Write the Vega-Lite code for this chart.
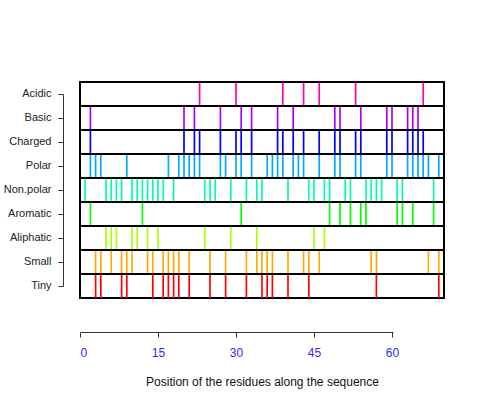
{
  "$schema": "https://vega.github.io/schema/vega-lite/v6.json",
  "width": 364,
  "height": 216,
  "autosize": {"type": "none"},
  "padding": {"left": 80, "top": 82, "right": 45, "bottom": 105},
  "background": "white",
  "config": {
    "font": "Liberation Sans",
    "view": {"stroke": "black", "strokeWidth": 2}
  },
  "datasets": {
    "marks": [
      {"category": "Acidic", "pos": 23}, {"category": "Acidic", "pos": 30}, {"category": "Acidic", "pos": 39}, {"category": "Acidic", "pos": 43}, {"category": "Acidic", "pos": 46}, {"category": "Acidic", "pos": 53}, {"category": "Acidic", "pos": 66},
      {"category": "Basic", "pos": 2}, {"category": "Basic", "pos": 20}, {"category": "Basic", "pos": 22}, {"category": "Basic", "pos": 27}, {"category": "Basic", "pos": 31}, {"category": "Basic", "pos": 33}, {"category": "Basic", "pos": 38}, {"category": "Basic", "pos": 41}, {"category": "Basic", "pos": 49}, {"category": "Basic", "pos": 50}, {"category": "Basic", "pos": 54}, {"category": "Basic", "pos": 59}, {"category": "Basic", "pos": 60}, {"category": "Basic", "pos": 63}, {"category": "Basic", "pos": 64}, {"category": "Basic", "pos": 65},
      {"category": "Charged", "pos": 2}, {"category": "Charged", "pos": 20}, {"category": "Charged", "pos": 22}, {"category": "Charged", "pos": 23}, {"category": "Charged", "pos": 27}, {"category": "Charged", "pos": 30}, {"category": "Charged", "pos": 31}, {"category": "Charged", "pos": 33}, {"category": "Charged", "pos": 38}, {"category": "Charged", "pos": 39}, {"category": "Charged", "pos": 41}, {"category": "Charged", "pos": 43}, {"category": "Charged", "pos": 46}, {"category": "Charged", "pos": 49}, {"category": "Charged", "pos": 50}, {"category": "Charged", "pos": 53}, {"category": "Charged", "pos": 54}, {"category": "Charged", "pos": 59}, {"category": "Charged", "pos": 60}, {"category": "Charged", "pos": 63}, {"category": "Charged", "pos": 64}, {"category": "Charged", "pos": 65}, {"category": "Charged", "pos": 66},
      {"category": "Polar", "pos": 2}, {"category": "Polar", "pos": 3}, {"category": "Polar", "pos": 4}, {"category": "Polar", "pos": 9}, {"category": "Polar", "pos": 17}, {"category": "Polar", "pos": 19}, {"category": "Polar", "pos": 20}, {"category": "Polar", "pos": 21}, {"category": "Polar", "pos": 22}, {"category": "Polar", "pos": 23}, {"category": "Polar", "pos": 27}, {"category": "Polar", "pos": 28}, {"category": "Polar", "pos": 30}, {"category": "Polar", "pos": 31}, {"category": "Polar", "pos": 33}, {"category": "Polar", "pos": 36}, {"category": "Polar", "pos": 37}, {"category": "Polar", "pos": 38}, {"category": "Polar", "pos": 39}, {"category": "Polar", "pos": 41}, {"category": "Polar", "pos": 42}, {"category": "Polar", "pos": 43}, {"category": "Polar", "pos": 46}, {"category": "Polar", "pos": 49}, {"category": "Polar", "pos": 50}, {"category": "Polar", "pos": 53}, {"category": "Polar", "pos": 54}, {"category": "Polar", "pos": 59}, {"category": "Polar", "pos": 60}, {"category": "Polar", "pos": 63}, {"category": "Polar", "pos": 64}, {"category": "Polar", "pos": 65}, {"category": "Polar", "pos": 66}, {"category": "Polar", "pos": 67}, {"category": "Polar", "pos": 69},
      {"category": "Non.polar", "pos": 1}, {"category": "Non.polar", "pos": 5}, {"category": "Non.polar", "pos": 6}, {"category": "Non.polar", "pos": 7}, {"category": "Non.polar", "pos": 8}, {"category": "Non.polar", "pos": 10}, {"category": "Non.polar", "pos": 11}, {"category": "Non.polar", "pos": 12}, {"category": "Non.polar", "pos": 13}, {"category": "Non.polar", "pos": 14}, {"category": "Non.polar", "pos": 15}, {"category": "Non.polar", "pos": 16}, {"category": "Non.polar", "pos": 18}, {"category": "Non.polar", "pos": 24}, {"category": "Non.polar", "pos": 25}, {"category": "Non.polar", "pos": 26}, {"category": "Non.polar", "pos": 29}, {"category": "Non.polar", "pos": 32}, {"category": "Non.polar", "pos": 34}, {"category": "Non.polar", "pos": 35}, {"category": "Non.polar", "pos": 40}, {"category": "Non.polar", "pos": 44}, {"category": "Non.polar", "pos": 45}, {"category": "Non.polar", "pos": 47}, {"category": "Non.polar", "pos": 48}, {"category": "Non.polar", "pos": 51}, {"category": "Non.polar", "pos": 52}, {"category": "Non.polar", "pos": 55}, {"category": "Non.polar", "pos": 56}, {"category": "Non.polar", "pos": 57}, {"category": "Non.polar", "pos": 58}, {"category": "Non.polar", "pos": 61}, {"category": "Non.polar", "pos": 62}, {"category": "Non.polar", "pos": 68},
      {"category": "Aromatic", "pos": 2}, {"category": "Aromatic", "pos": 12}, {"category": "Aromatic", "pos": 31}, {"category": "Aromatic", "pos": 48}, {"category": "Aromatic", "pos": 50}, {"category": "Aromatic", "pos": 52}, {"category": "Aromatic", "pos": 54}, {"category": "Aromatic", "pos": 55}, {"category": "Aromatic", "pos": 61}, {"category": "Aromatic", "pos": 62}, {"category": "Aromatic", "pos": 64}, {"category": "Aromatic", "pos": 68},
      {"category": "Aliphatic", "pos": 5}, {"category": "Aliphatic", "pos": 6}, {"category": "Aliphatic", "pos": 7}, {"category": "Aliphatic", "pos": 10}, {"category": "Aliphatic", "pos": 11}, {"category": "Aliphatic", "pos": 13}, {"category": "Aliphatic", "pos": 15}, {"category": "Aliphatic", "pos": 24}, {"category": "Aliphatic", "pos": 29}, {"category": "Aliphatic", "pos": 34}, {"category": "Aliphatic", "pos": 45}, {"category": "Aliphatic", "pos": 47},
      {"category": "Small", "pos": 3}, {"category": "Small", "pos": 4}, {"category": "Small", "pos": 6}, {"category": "Small", "pos": 8}, {"category": "Small", "pos": 9}, {"category": "Small", "pos": 10}, {"category": "Small", "pos": 13}, {"category": "Small", "pos": 14}, {"category": "Small", "pos": 16}, {"category": "Small", "pos": 17}, {"category": "Small", "pos": 18}, {"category": "Small", "pos": 19}, {"category": "Small", "pos": 21}, {"category": "Small", "pos": 25}, {"category": "Small", "pos": 28}, {"category": "Small", "pos": 32}, {"category": "Small", "pos": 34}, {"category": "Small", "pos": 35}, {"category": "Small", "pos": 36}, {"category": "Small", "pos": 37}, {"category": "Small", "pos": 40}, {"category": "Small", "pos": 43}, {"category": "Small", "pos": 44}, {"category": "Small", "pos": 46}, {"category": "Small", "pos": 56}, {"category": "Small", "pos": 57}, {"category": "Small", "pos": 67}, {"category": "Small", "pos": 69},
      {"category": "Tiny", "pos": 3}, {"category": "Tiny", "pos": 4}, {"category": "Tiny", "pos": 8}, {"category": "Tiny", "pos": 9}, {"category": "Tiny", "pos": 14}, {"category": "Tiny", "pos": 16}, {"category": "Tiny", "pos": 17}, {"category": "Tiny", "pos": 18}, {"category": "Tiny", "pos": 19}, {"category": "Tiny", "pos": 21}, {"category": "Tiny", "pos": 25}, {"category": "Tiny", "pos": 28}, {"category": "Tiny", "pos": 32}, {"category": "Tiny", "pos": 35}, {"category": "Tiny", "pos": 36}, {"category": "Tiny", "pos": 37}, {"category": "Tiny", "pos": 40}, {"category": "Tiny", "pos": 44}, {"category": "Tiny", "pos": 57}, {"category": "Tiny", "pos": 69}
    ],
    "rows": [
      {"category": "Acidic"}, {"category": "Basic"}, {"category": "Charged"}, {"category": "Polar"}, {"category": "Non.polar"}, {"category": "Aromatic"}, {"category": "Aliphatic"}, {"category": "Small"}, {"category": "Tiny"}
    ]
  },
  "layer": [
    {
      "data": {"name": "marks"},
      "mark": {"type": "tick", "orient": "vertical", "size": 24, "thickness": 1.7, "opacity": 1},
      "encoding": {
        "x": {
          "field": "pos", "type": "quantitative",
          "scale": {"domain": [0, 70], "nice": false, "zero": false},
          "axis": {
            "orient": "bottom", "offset": 34, "values": [0, 15, 30, 45, 60],
            "domainColor": "#333333", "domainDash": [313, 200], "domainWidth": 1,
            "tickColor": "#333333", "tickSize": 5, "tickWidth": 1,
            "labelColor": "#2a2aff", "labelFontSize": 12, "labelPadding": 10,
            "grid": false,
            "title": "Position of the residues along the sequence",
            "titleFontSize": 12, "titleFontWeight": "normal", "titleColor": "#111111", "titlePadding": 18
          }
        },
        "y": {
          "field": "category", "type": "nominal",
          "scale": {"domain": ["Acidic", "Basic", "Charged", "Polar", "Non.polar", "Aromatic", "Aliphatic", "Small", "Tiny"], "paddingInner": 0, "paddingOuter": 0},
          "axis": {
            "orient": "left", "offset": 17, "title": null,
            "domainColor": "#333333", "domainDash": [0, 12, 192, 100], "domainWidth": 1,
            "tickColor": "#333333", "tickSize": 5, "tickWidth": 1,
            "labelColor": "#222222", "labelFontSize": 11, "labelPadding": 7,
            "grid": false
          }
        },
        "color": {
          "field": "category", "type": "nominal",
          "scale": {
            "domain": ["Acidic", "Basic", "Charged", "Polar", "Non.polar", "Aromatic", "Aliphatic", "Small", "Tiny"],
            "range": ["#FF00AA", "#AA00FF", "#0000FF", "#00AAFF", "#00FFAA", "#00FF00", "#AAFF00", "#FFAA00", "#FF0000"]
          },
          "legend": null
        }
      }
    },
    {
      "data": {"name": "rows"},
      "mark": {"type": "rule", "color": "black", "strokeWidth": 2},
      "encoding": {
        "y": {"field": "category", "type": "nominal", "bandPosition": 0}
      }
    }
  ]
}
